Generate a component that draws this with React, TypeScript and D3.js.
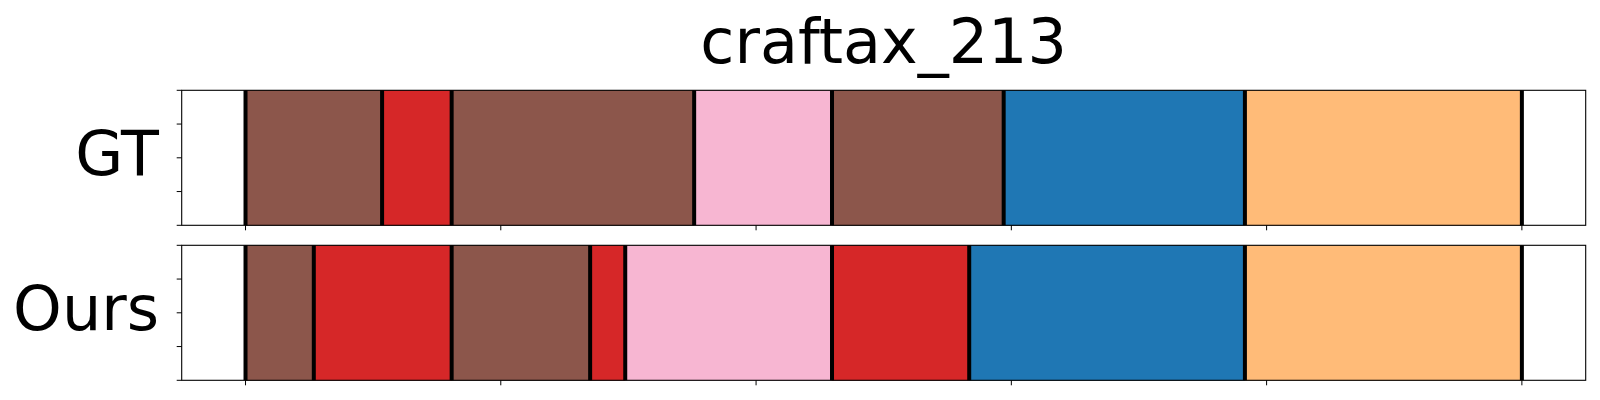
import * as d3 from 'd3'
import { useEffect, useRef } from 'react'

// segment boundaries (in % of episode) and the label of each segment
const gtBounds = [0, 10.7, 16.15, 35.15, 45.95, 59.4, 78.3, 100]
const gtLabels = ['wood', 'stone', 'wood', 'table', 'wood', 'water', 'sapling']
const oursBounds = [0, 5.35, 16.15, 27.0, 29.75, 45.95, 56.7, 78.3, 100]
const oursLabels = ['wood', 'stone', 'wood', 'stone', 'table', 'stone', 'water', 'sapling']

const rowNames = ['GT', 'Ours']
const xTicks = [0, 20, 40, 60, 80, 100]
const yTicks = [0, 0.25, 0.5, 0.75, 1]

const labelColors: { [k: string]: string } = {
  wood: '#8c564b',
  stone: '#d62728',
  table: '#f7b6d2',
  water: '#1f77b4',
  sapling: '#ffbb78',
}

export default function App() {
  const svgRef = useRef(null)

  const update = () => {
    const svg = d3.select(svgRef.current)
    svg.selectAll('*').remove()

    const x = d3.scaleLinear().domain([-5, 105]).range([181.7, 1585.7])
    const rowTop = d3.scaleOrdinal<string, number>().domain(rowNames).range([90.3, 245.3])
    const rowH = 135
    const rows = [
      { name: 'GT', bounds: gtBounds, labels: gtLabels },
      { name: 'Ours', bounds: oursBounds, labels: oursLabels },
    ]

    svg.append('text')
      .attr('x', 883.7)
      .attr('y', 62.5)
      .attr('text-anchor', 'middle')
      .style('font-family', 'DejaVu Sans')
      .style('font-size', '62px')
      .text('craftax_213')

    rows.forEach(row => {
      const top = rowTop(row.name)
      const y = d3.scaleLinear().domain([0, 1]).range([top + rowH, top])
      const g = svg.append('g')

      const segs = row.labels.map((l, i) => ({ label: l, x0: row.bounds[i], x1: row.bounds[i + 1] }))
      g.selectAll('rect.seg')
        .data(segs)
        .enter()
        .append('rect')
        .attr('class', 'seg')
        .attr('x', d => x(d.x0))
        .attr('y', y(1))
        .attr('width', d => x(d.x1) - x(d.x0))
        .attr('height', y(0) - y(1))
        .attr('fill', d => labelColors[d.label])
        .attr('stroke', d => d3.color(labelColors[d.label])!.darker(0.3).toString())
        .attr('stroke-width', 0.6)

      // black boundary lines
      g.selectAll('line.bound')
        .data(row.bounds)
        .enter()
        .append('line')
        .attr('x1', d => x(d))
        .attr('x2', d => x(d))
        .attr('y1', y(1))
        .attr('y2', y(0))
        .attr('stroke', '#000')
        .attr('stroke-width', 4)

      // frame
      g.append('rect')
        .attr('x', x(-5))
        .attr('y', y(1))
        .attr('width', x(105) - x(-5))
        .attr('height', y(0) - y(1))
        .attr('fill', 'none')
        .attr('stroke', '#000')
        .attr('stroke-width', 1.1)

      // ticks, no labels
      g.selectAll('line.yt')
        .data(yTicks)
        .enter()
        .append('line')
        .attr('x1', x(-5) - 5)
        .attr('x2', x(-5))
        .attr('y1', d => y(d))
        .attr('y2', d => y(d))
        .attr('stroke', '#000')
        .attr('stroke-width', 1)
      g.selectAll('line.xt')
        .data(xTicks)
        .enter()
        .append('line')
        .attr('x1', d => x(d))
        .attr('x2', d => x(d))
        .attr('y1', y(0))
        .attr('y2', y(0) + 5)
        .attr('stroke', '#000')
        .attr('stroke-width', 1)

      g.append('text')
        .attr('x', 159)
        .attr('y', top + rowH / 2 + 17)
        .attr('text-anchor', 'end')
        .style('font-family', 'DejaVu Sans')
        .style('font-size', '62px')
        .text(row.name)
    })
  }

  useEffect(() => {
    update()
  })

  return (
    <svg ref={svgRef} width={1600} height={400}
      style={{ position: 'absolute', left: 0, top: 0, background: '#fff' }}></svg>
  )
}
